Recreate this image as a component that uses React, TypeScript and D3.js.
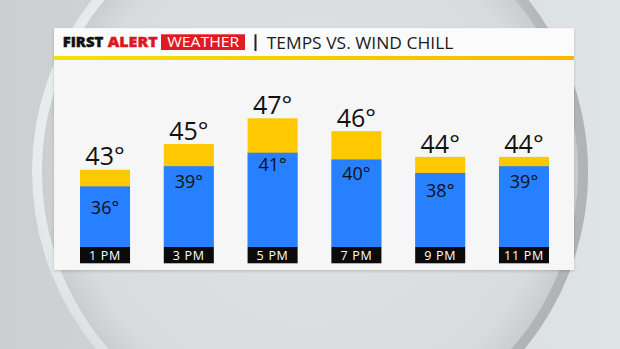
import React from 'react';
import * as d3 from 'd3';

const times = ['1 PM', '3 PM', '5 PM', '7 PM', '9 PM', '11 PM'];
const temps = [43, 45, 47, 46, 44, 44];
const chills = [36, 39, 41, 40, 38, 39];

const W = 620;
const H = 349;
const FONT = "'Open Sans', 'DejaVu Sans', sans-serif";

export default function App() {
  const x = d3.scaleBand<string>().domain(times).range([80, 549]).paddingInner(0.403).paddingOuter(0);
  const tempY = d3.scaleLinear().domain([37, 47]).range([247, 118.3]);
  const chillY = d3.scaleLinear().domain([27, 41]).range([247, 152.7]);
  const chillLabelY = d3.scaleLinear().domain([36, 41]).range([214.3, 171]);
  const bw = x.bandwidth();
  const base = tempY(37);

  return (
    <svg width={W} height={H} style={{ position: 'absolute', left: 0, top: 0, display: 'block' }}>
      <defs>
        <linearGradient id="bg" x1="0" x2="1" y1="0" y2="0">
          <stop offset="0" stopColor="#cbcfd1" />
          <stop offset="1" stopColor="#dfe4e5" />
        </linearGradient>
        <radialGradient id="sphere" cx="0.5" cy="0.5" r="0.5">
          <stop offset="0" stopColor="#dfe3e4" />
          <stop offset="0.85" stopColor="#d8dcdd" />
          <stop offset="0.96" stopColor="#cacecf" />
          <stop offset="1" stopColor="#bcc0c2" />
        </radialGradient>
        <linearGradient id="rim" x1="0" x2="1" y1="0" y2="0.3">
          <stop offset="0" stopColor="#edf2f4" stopOpacity="1" />
          <stop offset="0.4" stopColor="#e8edef" stopOpacity="0.6" />
          <stop offset="0.6" stopColor="#b8bcbe" stopOpacity="0.2" />
          <stop offset="1" stopColor="#aeb2b4" stopOpacity="0.9" />
        </linearGradient>
        <linearGradient id="yline" x1="0" x2="1" y1="0" y2="0">
          <stop offset="0" stopColor="#f3e200" />
          <stop offset="1" stopColor="#fbb600" />
        </linearGradient>
        <filter id="shadow" x="-5%" y="-5%" width="110%" height="115%">
          <feDropShadow dx="0" dy="1" stdDeviation="1.5" floodColor="#000" floodOpacity="0.18" />
        </filter>
      </defs>

      <rect x={0} y={0} width={W} height={H} fill="url(#bg)" />
      <circle cx={310} cy={172} r={278} fill="url(#sphere)" />
      <circle cx={310} cy={172} r={273} fill="none" stroke="url(#rim)" strokeWidth={10} />

      {/* panel */}
      <g filter="url(#shadow)">
        <rect x={54} y={28.3} width={520} height={241.7} fill="#f6f6f6" />
      </g>
      <rect x={54} y={28.3} width={520} height={27.7} fill="#fbfbfb" />
      <rect x={54} y={56} width={520} height={4} fill="url(#yline)" />

      {/* header */}
      <text x={62.7} y={47.2} fontFamily={FONT} fontWeight={800} fontSize={13.8} fill="#111" stroke="#111" strokeWidth={0.4} textLength={40.6} lengthAdjust="spacingAndGlyphs">FIRST</text>
      <text x={107.7} y={47.2} fontFamily={FONT} fontWeight={800} fontSize={13.8} fill="#e0161e" stroke="#e0161e" strokeWidth={0.4} textLength={50} lengthAdjust="spacingAndGlyphs">ALERT</text>
      <rect x={161} y={34.3} width={84} height={15.7} fill="#e21a22" />
      <text x={167.3} y={47.2} fontFamily={FONT} fontWeight={500} fontSize={13.8} fill="#fff" textLength={72} lengthAdjust="spacingAndGlyphs">WEATHER</text>
      <rect x={254.5} y={34.3} width={2} height={16.7} fill="#222" />
      <text x={266.7} y={49} fontFamily={FONT} fontWeight={500} fontSize={16.3} fill="#1a1a1a" textLength={186.7} lengthAdjust="spacingAndGlyphs">TEMPS VS. WIND CHILL</text>

      {/* bars */}
      {times.map((t, i) => {
        const x0 = x(t) as number;
        const cx = x0 + bw / 2;
        return (
          <g key={t}>
            <rect x={x0} y={tempY(temps[i])} width={bw} height={base - tempY(temps[i])} fill="#ffc800" />
            <rect x={x0} y={chillY(chills[i])} width={bw} height={base - chillY(chills[i])} fill="#2780ff" />
            <rect x={x0} y={base} width={bw} height={16.3} fill="#0b0b0b" />
            <text x={cx} y={tempY(temps[i]) - 4.4} textAnchor="middle" fontFamily={FONT} fontWeight={500} fontSize={25} fill="#111">{temps[i]}°</text>
            <text x={cx} y={chillLabelY(chills[i])} textAnchor="middle" fontFamily={FONT} fontWeight={500} fontSize={18} fill="#111">{chills[i]}°</text>
            <text x={cx} y={base + 13} textAnchor="middle" fontFamily={FONT} fontWeight={500} fontSize={12.5} letterSpacing={0.7} fill="#fff">{t}</text>
          </g>
        );
      })}
    </svg>
  );
}
